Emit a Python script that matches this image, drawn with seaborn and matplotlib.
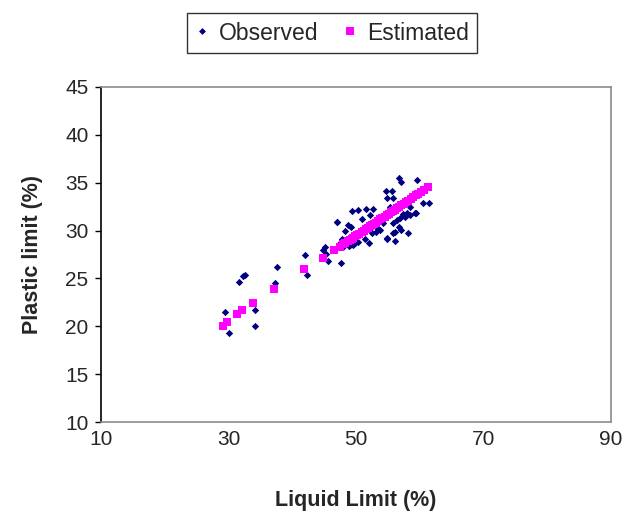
import matplotlib
matplotlib.use("Agg")
import matplotlib.pyplot as plt
import seaborn as sns
import pandas as pd
from matplotlib.lines import Line2D

# Observed data (Liquid limit, Plastic limit)
obs_ll = [29.45, 30.13, 31.69, 32.32, 32.54, 34.16, 34.16, 37.29, 37.66, 42.27, 42.05,
          45.09, 44.88, 45.56, 47.70, 47.07, 48.80, 49.17, 48.27, 49.30, 50.30, 48.94,
          49.84, 48.00, 51.57, 52.71, 52.16, 50.90, 53.24, 52.45, 53.14, 53.76, 47.76,
          51.38, 50.35, 49.06, 52.09, 54.91, 47.50, 49.57,
          56.79, 57.01, 59.62, 54.71, 55.65, 54.91, 55.85, 60.56, 61.50, 55.33, 58.50,
          57.33, 56.90, 57.69, 58.47, 59.25, 55.85, 56.38, 56.79, 57.01, 56.12, 55.85,
          58.20, 54.81, 56.12, 54.28, 58.05, 59.40, 46.97, 45.30]
obs_pl = [21.52, 19.27, 24.66, 25.29, 25.36, 21.70, 20.06, 24.49, 26.16, 25.33, 27.42,
          28.25, 27.97, 26.85, 26.60, 30.90, 30.58, 30.40, 30.00, 32.00, 32.10, 28.39,
          28.67, 28.30, 32.22, 32.22, 31.63, 31.18, 30.24, 29.71, 29.88, 30.06, 29.09,
          29.09, 28.84, 28.50, 28.67, 29.09, 28.67, 28.49,
          35.53, 35.05, 35.28, 34.13, 34.13, 33.44, 33.44, 32.85, 32.85, 32.50, 32.50,
          31.70, 31.28, 31.45, 31.63, 31.80, 30.76, 31.10, 30.40, 30.06, 29.88, 29.71,
          29.71, 29.19, 28.91, 30.76, 31.80, 31.80, 30.93, 27.60]

# Estimated data
est_ll = [29.09, 29.72, 31.29, 32.16, 33.89, 37.14, 41.84, 44.78, 46.55,
          47.5, 48.0, 48.3, 48.8, 49.0, 49.3, 49.6, 49.9, 50.2, 50.5, 50.9, 51.2,
          51.5, 51.9, 52.2, 52.5, 52.8, 53.1, 53.5, 53.8, 54.1, 54.5, 54.8, 55.1,
          55.5, 55.8, 56.1, 56.5, 56.8, 57.1, 57.5, 57.8, 58.2, 58.6, 59.0, 59.4,
          59.8, 60.2, 60.7, 61.25]
est_pl = [20.06, 20.45, 21.30, 21.70, 22.40, 23.85, 25.95, 27.18, 27.98,
          28.33, 28.55, 28.69, 28.91, 29.00, 29.13, 29.27, 29.40, 29.54, 29.67, 29.85, 29.99,
          30.12, 30.30, 30.44, 30.57, 30.71, 30.84, 31.02, 31.16, 31.29, 31.47, 31.60, 31.74,
          31.92, 32.05, 32.19, 32.37, 32.50, 32.64, 32.82, 32.95, 33.13, 33.31, 33.49, 33.67,
          33.85, 34.03, 34.25, 34.50]

x_ticks = [10, 30, 50, 70, 90]
y_ticks = [10, 15, 20, 25, 30, 35, 40, 45]

NAVY = "#000080"
MAGENTA = "#FF00FF"

sns.set_style("white")
plt.rcParams["font.family"] = ["Liberation Sans", "DejaVu Sans"]

obs_df = pd.DataFrame({"LL": obs_ll, "PL": obs_pl})
est_df = pd.DataFrame({"LL": est_ll, "PL": est_pl})

fig = plt.figure(figsize=(6.23, 5.16), dpi=100)
ax = fig.add_axes([101 / 623, 94 / 516, 510 / 623, 335 / 516])

sns.scatterplot(data=obs_df, x="LL", y="PL", ax=ax, marker="D", s=14,
                color=NAVY, linewidth=0, zorder=2)
sns.scatterplot(data=est_df, x="LL", y="PL", ax=ax, marker="s", s=38,
                color=MAGENTA, linewidth=0, zorder=3)

ax.set_xlim(10, 90)
ax.set_ylim(10, 45)
ax.set_xticks(x_ticks)
ax.set_yticks(y_ticks)
ax.tick_params(axis="x", length=0, pad=6, labelsize=15)
ax.tick_params(axis="y", length=4, width=1, direction="out", pad=5,
               labelsize=15, color="black", left=True)

for side in ["top", "right", "bottom"]:
    ax.spines[side].set_color("#8c8c8c")
    ax.spines[side].set_linewidth(1.2)
ax.spines["left"].set_color("black")
ax.spines["left"].set_linewidth(1.2)

ax.set_xlabel("Liquid Limit (%)", fontsize=15.5, fontweight="bold", labelpad=29)
ax.set_ylabel("Plastic limit (%)", fontsize=15.5, fontweight="bold", labelpad=16)

handles = [
    Line2D([0], [0], marker="D", color="none", markerfacecolor=NAVY,
           markeredgewidth=0, markersize=3.5, label="Observed"),
    Line2D([0], [0], marker="s", color="none", markerfacecolor=MAGENTA,
           markeredgewidth=0, markersize=6, label="Estimated"),
]
leg = fig.legend(handles=handles, loc="center", bbox_to_anchor=(332 / 623, 1 - 33 / 516),
                 ncol=2, fontsize=16.5, frameon=True, fancybox=False,
                 edgecolor="black", handlelength=0.6, handletextpad=0.45,
                 columnspacing=1.1, borderpad=0.35)
leg.get_frame().set_linewidth(1.0)

fig.savefig("out.png", dpi=100)
